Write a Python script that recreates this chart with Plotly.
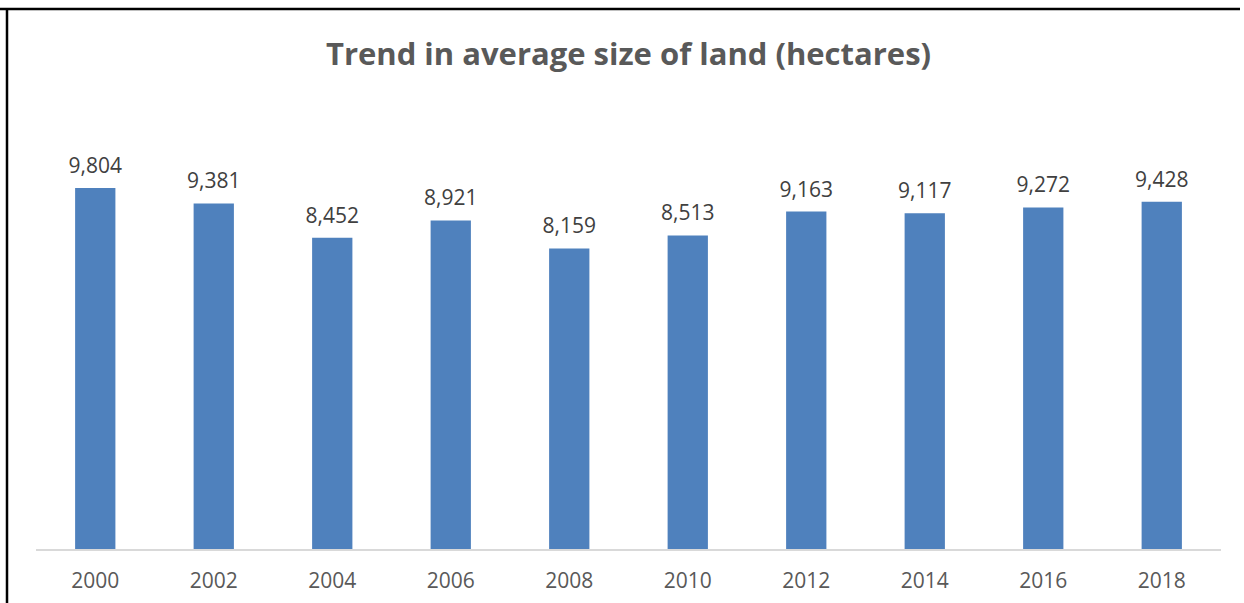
import plotly.graph_objects as go

years = ["2000", "2002", "2004", "2006", "2008", "2010", "2012", "2014", "2016", "2018"]
avg_size = [9804, 9381, 8452, 8921, 8159, 8513, 9163, 9117, 9272, 9428]
labels = [f"{v:,}" for v in avg_size]

fig = go.Figure()
fig.add_trace(
    go.Bar(
        x=years,
        y=avg_size,
        marker=dict(color="#4F81BD", line=dict(width=0)),
        cliponaxis=False,
        hoverinfo="x+y",
    )
)
# value labels above each bar; the invisible marker pushes the text up a little
fig.add_trace(
    go.Scatter(
        x=years,
        y=avg_size,
        mode="markers+text",
        text=labels,
        textposition="top center",
        marker=dict(size=14, opacity=0),
        textfont=dict(family="Open Sans", size=21, color="#404040"),
        cliponaxis=False,
        hoverinfo="skip",
    )
)

fig.update_layout(
    width=1244,
    height=603,
    margin=dict(l=36, r=23, t=107, b=54),
    paper_bgcolor="white",
    plot_bgcolor="white",
    bargap=0.66,
    showlegend=False,
    title=dict(
        text="<b>Trend in average size of land (hectares)</b>",
        x=0.5,
        xref="paper",
        xanchor="center",
        y=1 - 54 / 603,
        yanchor="middle",
        font=dict(family="Open Sans", size=31, color="#595959"),
    ),
    xaxis=dict(
        type="category",
        range=[-0.5, len(years) - 0.5],
        automargin=False,
        showgrid=False,
        showline=True,
        linecolor="#D9D9D9",
        linewidth=1.5,
        ticks="outside",
        ticklen=12,
        tickcolor="rgba(0,0,0,0)",
        tickfont=dict(family="Open Sans", size=21, color="#595959"),
    ),
    yaxis=dict(
        range=[0, 12000],
        automargin=False,
        visible=False,
        showgrid=False,
        zeroline=False,
    ),
    shapes=[
        # frame lines along the left and top edges of the chart
        dict(type="line", xref="paper", yref="paper", x0=-36 / 1185, x1=-36 / 1185 + 1240 / 1185,
             y0=1 + (107 - 9) / 442, y1=1 + (107 - 9) / 442, line=dict(color="black", width=2.5)),
        dict(type="line", xref="paper", yref="paper", x0=-(36 - 7) / 1185, x1=-(36 - 7) / 1185,
             y0=-54 / 442, y1=1 + (107 - 9) / 442, line=dict(color="black", width=2.5)),
    ],
)

fig.write_html("out.html", config={"displayModeBar": False})
